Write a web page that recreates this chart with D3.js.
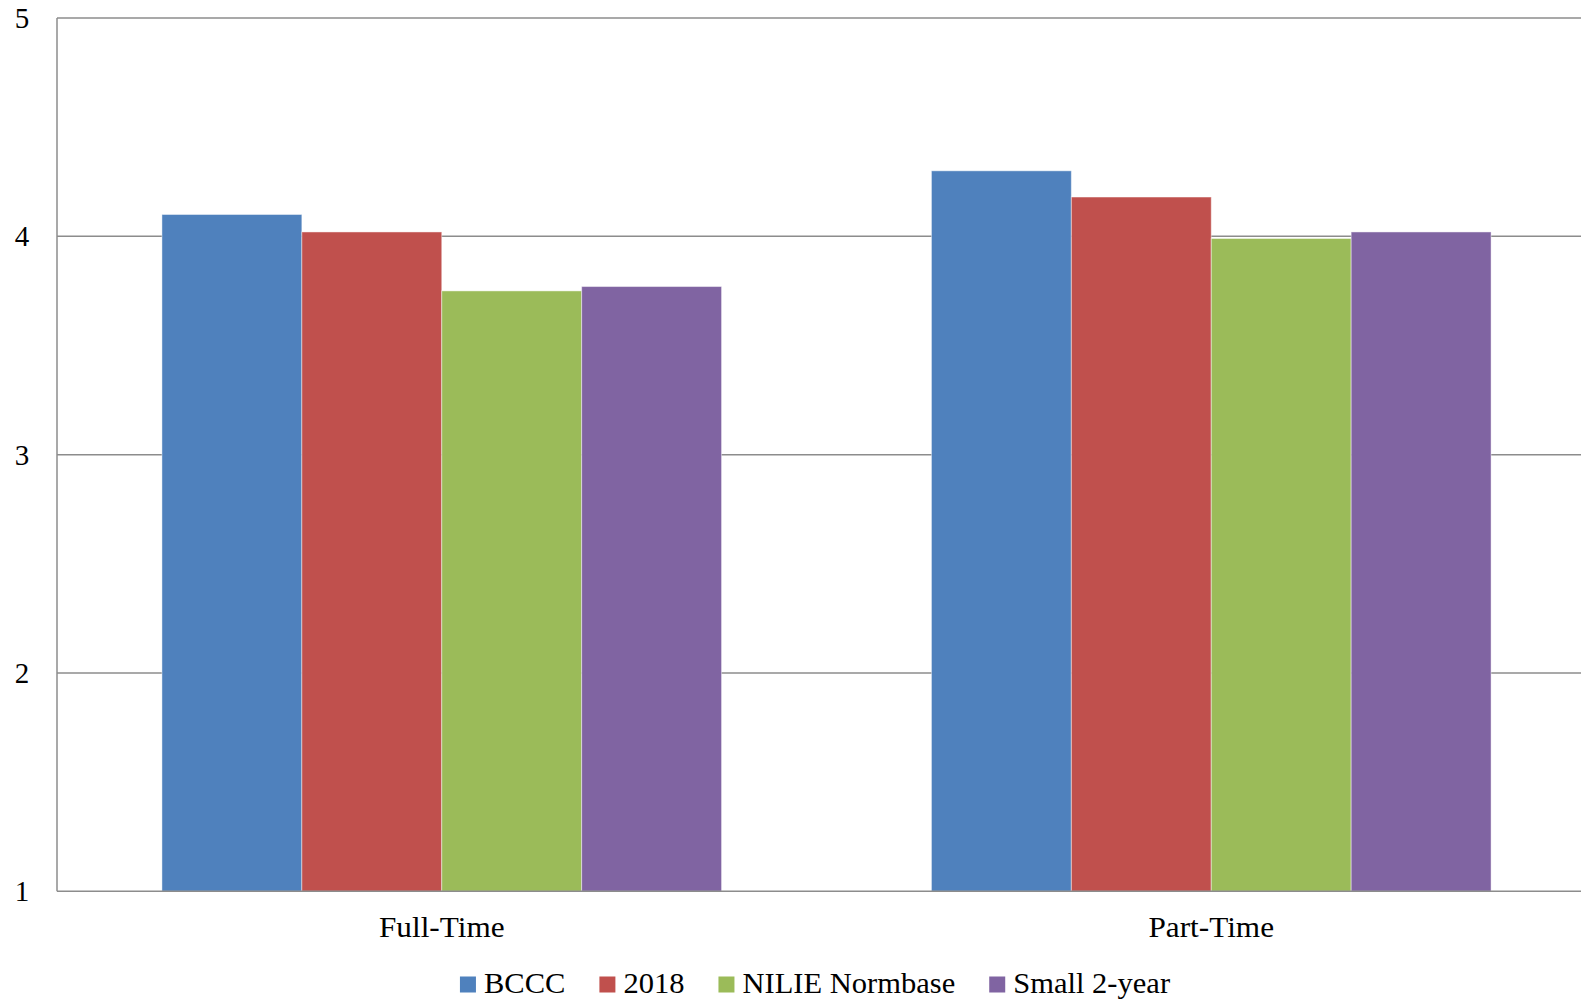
<!DOCTYPE html>
<html>
<head>
<meta charset="utf-8">
<script src="https://cdn.jsdelivr.net/npm/d3@7"></script>
<style>
  html, body { margin: 0; padding: 0; background: #fff; }
  svg { display: block; }
  text { font-family: "Liberation Serif", "Times New Roman", serif; fill: #000; }
</style>
</head>
<body>
<script>
const categories = ["Full-Time", "Part-Time"];
const seriesNames = ["BCCC", "2018", "NILIE Normbase", "Small 2-year"];
const seriesColors = ["#4F81BD", "#C0504D", "#9BBB59", "#8064A2"];
const bccc = [4.10, 4.30];
const y2018 = [4.02, 4.18];
const nilie = [3.75, 3.99];
const small2yr = [3.77, 4.02];
const yTicks = [1, 2, 3, 4, 5];

const seriesValues = [bccc, y2018, nilie, small2yr];

const W = 1581, H = 1004;
const plotL = 57, plotR = 1596, plotT = 18, plotB = 891.3;
const fontSize = 29;
const labelSize = 29.5;
const stretch = 1.06;
const legStretch = 1.035;

const svg = d3.select("body").append("svg").attr("width", W).attr("height", H);

const x0 = d3.scaleBand().domain(categories).range([plotL, plotR]).paddingInner(0).paddingOuter(0);
const gapFrac = 1.5 / (4 + 1.5);
const x1 = d3.scaleBand().domain(seriesNames)
  .range([x0.bandwidth() * gapFrac / 2, x0.bandwidth() * (1 - gapFrac / 2)]).padding(0);
const y = d3.scaleLinear().domain([1, 5]).range([plotB, plotT]);

// gridlines
svg.append("g").selectAll("line").data(yTicks.filter(t => t > 1)).join("line")
  .attr("x1", plotL).attr("x2", plotR)
  .attr("y1", d => y(d)).attr("y2", d => y(d))
  .attr("stroke", "#8c8c8c").attr("stroke-width", 1.5);

// bars
const groups = svg.append("g").selectAll("g").data(categories).join("g")
  .attr("transform", c => `translate(${x0(c)},0)`);
groups.selectAll("rect")
  .data((c, ci) => seriesNames.map((s, si) => ({ s, si, v: seriesValues[si][ci] })))
  .join("rect")
  .attr("x", d => x1(d.s))
  .attr("width", x1.bandwidth())
  .attr("y", d => y(d.v))
  .attr("height", d => y(1) - y(d.v))
  .attr("fill", d => seriesColors[d.si])
  .attr("stroke", "rgba(255,255,255,0.45)")
  .attr("stroke-width", 1);

// axes lines
svg.append("line").attr("x1", plotL).attr("x2", plotL).attr("y1", plotT).attr("y2", plotB)
  .attr("stroke", "#8c8c8c").attr("stroke-width", 1.5);
svg.append("line").attr("x1", plotL).attr("x2", plotR).attr("y1", plotB).attr("y2", plotB)
  .attr("stroke", "#8c8c8c").attr("stroke-width", 1.5);

// y tick labels
svg.append("g").selectAll("text").data(yTicks).join("text")
  .attr("x", 22).attr("y", d => y(d) + fontSize * 0.34)
  .attr("text-anchor", "middle")
  .attr("font-size", fontSize)
  .text(d => d);

// x category labels
svg.append("g").selectAll("text").data(categories).join("text")
  .attr("transform", c => `translate(${x0(c) + x0.bandwidth() / 2},936.5) scale(${stretch},1)`)
  .attr("text-anchor", "middle")
  .attr("font-size", labelSize)
  .text(c => c);

// legend
const legend = svg.append("g");
const items = legend.selectAll("g").data(seriesNames).join("g");
items.append("rect").attr("width", 16).attr("height", 16).attr("y", -16)
  .attr("fill", (d, i) => seriesColors[i]);
items.append("text").attr("transform", `translate(24,0) scale(${legStretch},1)`)
  .attr("font-size", labelSize).text(d => d);
let cx = 0;
const offsets = [];
items.each(function () {
  const tw = d3.select(this).select("text").node().getComputedTextLength() * legStretch;
  offsets.push(cx);
  cx += 24 + tw + 34;
});
const totalW = cx - 34;
const startX = 815 - totalW / 2;
items.attr("transform", (d, i) => `translate(${startX + offsets[i]},992.5)`);
</script>
</body>
</html>
